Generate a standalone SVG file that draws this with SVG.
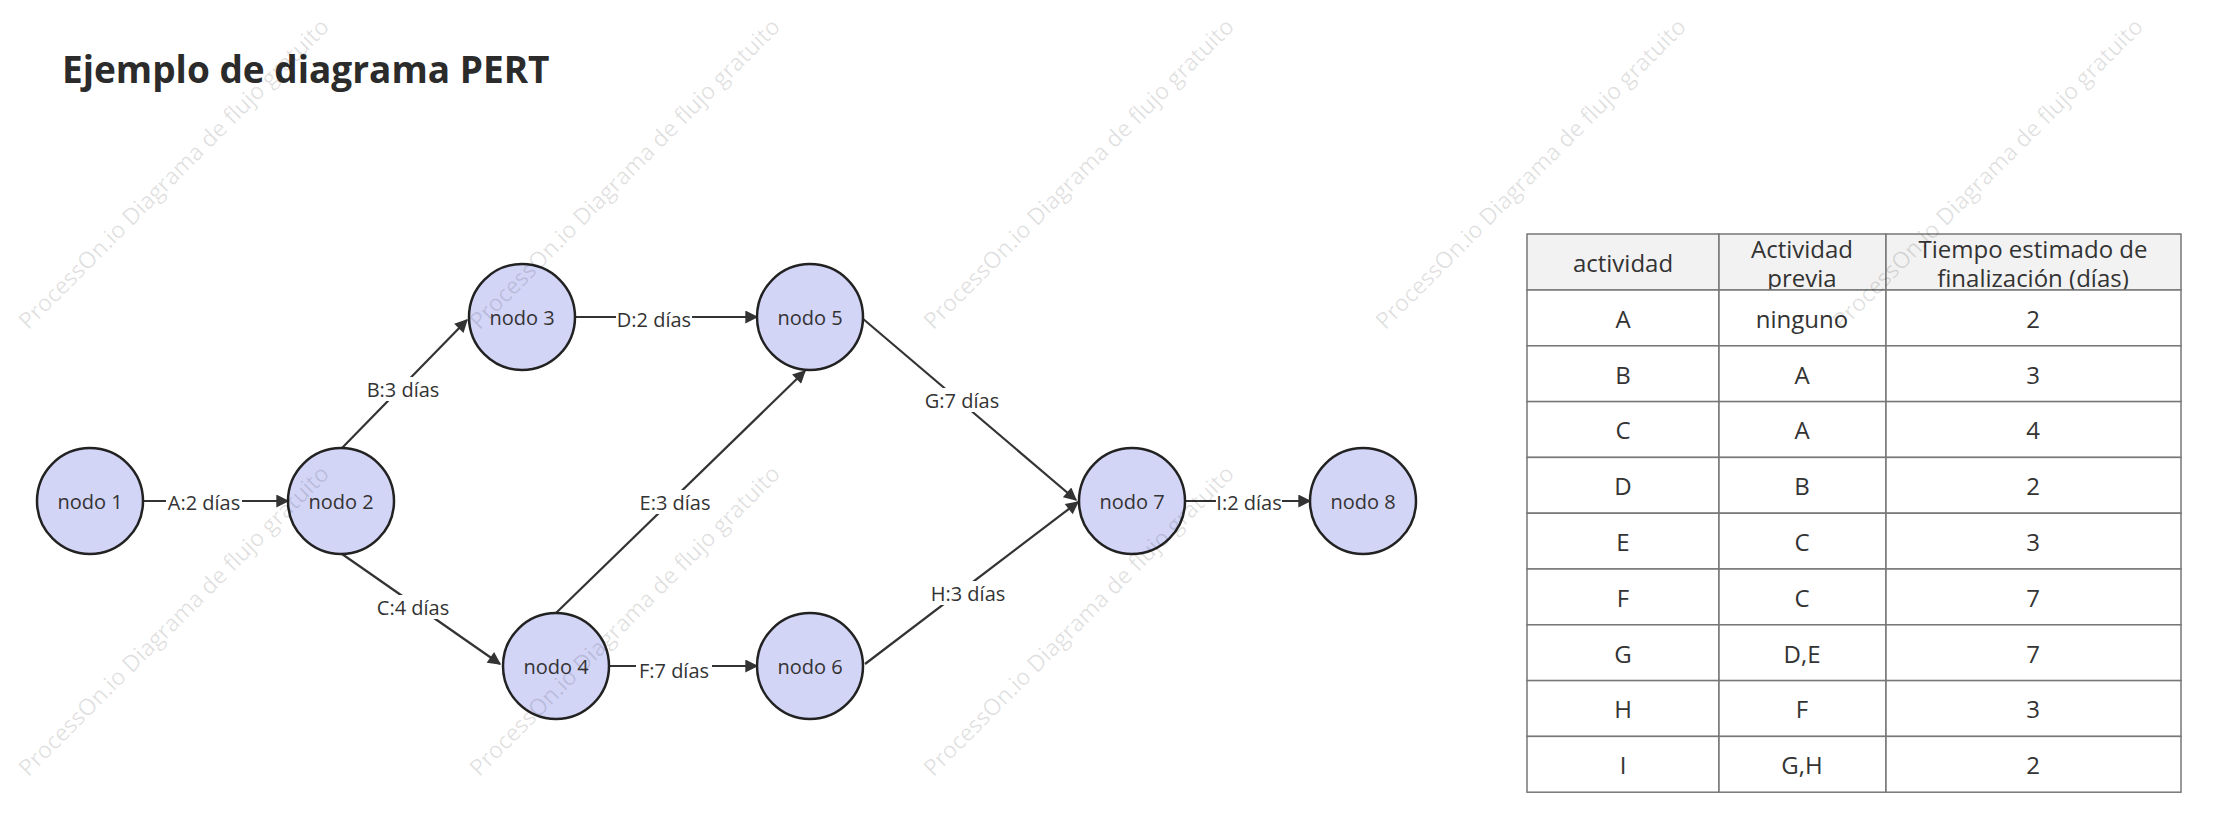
<svg xmlns="http://www.w3.org/2000/svg" width="2214" height="828" viewBox="0 0 2214 828">
<style>
text{font-family:"Open Sans","Noto Sans","DejaVu Sans",sans-serif;fill:#333}
.node circle{fill:#d3d5f7;stroke:#222;stroke-width:2.5}
.node text{font-size:20px;text-anchor:middle;dominant-baseline:central}
.edge line{stroke:#333;stroke-width:2.2;marker-end:url(#arr)}
.lbl{font-size:20px;text-anchor:middle;dominant-baseline:central}
.lblbg{fill:#fff}
.cell{fill:#fff;stroke:#777;stroke-width:1.5}
.hcell{fill:#f2f2f2;stroke:#777;stroke-width:1.5}
.t{font-size:24px;text-anchor:middle;dominant-baseline:central}
.wm{font-size:23px;fill:#000;fill-opacity:0.12;text-anchor:middle;dominant-baseline:central}
</style>
<defs>
<marker id="arr" viewBox="0 0 10 10" refX="9" refY="5" markerWidth="15" markerHeight="13" markerUnits="userSpaceOnUse" orient="auto"><path d="M0,0L10,5L0,10z" fill="#333"/></marker>
</defs>
<rect width="2214" height="828" fill="#fff"/>
<text x="62" y="83" font-size="37" font-weight="bold" style="fill:#2b2b2b">Ejemplo de diagrama PERT</text>
<g id="connectors">
<g class="edge">
<line x1="143" y1="501" x2="288" y2="501"/>
<line x1="342" y1="448" x2="467" y2="320"/>
<line x1="342" y1="554" x2="500" y2="664"/>
<line x1="575" y1="317" x2="757" y2="317"/>
<line x1="556" y1="613" x2="805" y2="371"/>
<line x1="609" y1="666" x2="757" y2="666"/>
<line x1="862" y1="318" x2="1076" y2="500"/>
<line x1="865" y1="664" x2="1078" y2="502"/>
<line x1="1185" y1="501" x2="1310" y2="501"/>
</g>
<g>
<rect class="lblbg" x="166" y="490" width="76" height="24"/><text class="lbl" x="204" y="502">A:2 días</text>
<rect class="lblbg" x="365" y="377" width="76" height="24"/><text class="lbl" x="403" y="389">B:3 días</text>
<rect class="lblbg" x="375" y="595" width="76" height="24"/><text class="lbl" x="413" y="607">C:4 días</text>
<rect class="lblbg" x="616" y="307" width="76" height="24"/><text class="lbl" x="654" y="319">D:2 días</text>
<rect class="lblbg" x="637" y="490" width="76" height="24"/><text class="lbl" x="675" y="502">E:3 días</text>
<rect class="lblbg" x="636" y="658" width="76" height="24"/><text class="lbl" x="674" y="670">F:7 días</text>
<rect class="lblbg" x="923" y="388" width="78" height="24"/><text class="lbl" x="962" y="400">G:7 días</text>
<rect class="lblbg" x="929" y="581" width="78" height="24"/><text class="lbl" x="968" y="593">H:3 días</text>
<rect class="lblbg" x="1216" y="490" width="66" height="24"/><text class="lbl" x="1249" y="502">I:2 días</text>
</g>
</g>
<g id="node1" class="node"><circle cx="90" cy="501" r="53"/><text x="90" y="501">nodo 1</text></g>
<g id="node2" class="node"><circle cx="341" cy="501" r="53"/><text x="341" y="501">nodo 2</text></g>
<g id="node3" class="node"><circle cx="522" cy="317" r="53"/><text x="522" y="317">nodo 3</text></g>
<g id="node4" class="node"><circle cx="556" cy="666" r="53"/><text x="556" y="666">nodo 4</text></g>
<g id="node5" class="node"><circle cx="810" cy="317" r="53"/><text x="810" y="317">nodo 5</text></g>
<g id="node6" class="node"><circle cx="810" cy="666" r="53"/><text x="810" y="666">nodo 6</text></g>
<g id="node7" class="node"><circle cx="1132" cy="501" r="53"/><text x="1132" y="501">nodo 7</text></g>
<g id="node8" class="node"><circle cx="1363" cy="501" r="53"/><text x="1363" y="501">nodo 8</text></g>
<g id="table" transform="translate(-6,-2)">
<rect class="hcell" x="1533" y="236" width="192" height="56"/>
<rect class="hcell" x="1725" y="236" width="167" height="56"/>
<rect class="hcell" x="1892" y="236" width="295" height="56"/>
<text class="t" x="1629" y="264">actividad</text>
<text class="t" x="1808" y="250">Actividad</text><text class="t" x="1808" y="279">previa</text>
<text class="t" x="2039" y="250">Tiempo estimado de</text><text class="t" x="2039" y="279">finalización (días)</text>
<g>
<rect class="cell" x="1533" y="292" width="192" height="55.8"/><rect class="cell" x="1725" y="292" width="167" height="55.8"/><rect class="cell" x="1892" y="292" width="295" height="55.8"/>
<rect class="cell" x="1533" y="347.8" width="192" height="55.8"/><rect class="cell" x="1725" y="347.8" width="167" height="55.8"/><rect class="cell" x="1892" y="347.8" width="295" height="55.8"/>
<rect class="cell" x="1533" y="403.6" width="192" height="55.8"/><rect class="cell" x="1725" y="403.6" width="167" height="55.8"/><rect class="cell" x="1892" y="403.6" width="295" height="55.8"/>
<rect class="cell" x="1533" y="459.4" width="192" height="55.8"/><rect class="cell" x="1725" y="459.4" width="167" height="55.8"/><rect class="cell" x="1892" y="459.4" width="295" height="55.8"/>
<rect class="cell" x="1533" y="515.2" width="192" height="55.8"/><rect class="cell" x="1725" y="515.2" width="167" height="55.8"/><rect class="cell" x="1892" y="515.2" width="295" height="55.8"/>
<rect class="cell" x="1533" y="571" width="192" height="55.8"/><rect class="cell" x="1725" y="571" width="167" height="55.8"/><rect class="cell" x="1892" y="571" width="295" height="55.8"/>
<rect class="cell" x="1533" y="626.8" width="192" height="55.8"/><rect class="cell" x="1725" y="626.8" width="167" height="55.8"/><rect class="cell" x="1892" y="626.8" width="295" height="55.8"/>
<rect class="cell" x="1533" y="682.6" width="192" height="55.8"/><rect class="cell" x="1725" y="682.6" width="167" height="55.8"/><rect class="cell" x="1892" y="682.6" width="295" height="55.8"/>
<rect class="cell" x="1533" y="738.4" width="192" height="55.8"/><rect class="cell" x="1725" y="738.4" width="167" height="55.8"/><rect class="cell" x="1892" y="738.4" width="295" height="55.8"/>
</g>
<text class="t" x="1629" y="320">A</text><text class="t" x="1808" y="320">ninguno</text><text class="t" x="2039" y="320">2</text>
<text class="t" x="1629" y="376">B</text><text class="t" x="1808" y="376">A</text><text class="t" x="2039" y="376">3</text>
<text class="t" x="1629" y="431">C</text><text class="t" x="1808" y="431">A</text><text class="t" x="2039" y="431">4</text>
<text class="t" x="1629" y="487">D</text><text class="t" x="1808" y="487">B</text><text class="t" x="2039" y="487">2</text>
<text class="t" x="1629" y="543">E</text><text class="t" x="1808" y="543">C</text><text class="t" x="2039" y="543">3</text>
<text class="t" x="1629" y="599">F</text><text class="t" x="1808" y="599">C</text><text class="t" x="2039" y="599">7</text>
<text class="t" x="1629" y="655">G</text><text class="t" x="1808" y="655">D,E</text><text class="t" x="2039" y="655">7</text>
<text class="t" x="1629" y="710">H</text><text class="t" x="1808" y="710">F</text><text class="t" x="2039" y="710">3</text>
<text class="t" x="1629" y="766">I</text><text class="t" x="1808" y="766">G,H</text><text class="t" x="2039" y="766">2</text>
</g>
<g id="watermarks">
<text class="wm" transform="translate(173,173) rotate(-45)">ProcessOn.io Diagrama de flujo gratuito</text>
<text class="wm" transform="translate(624,173) rotate(-45)">ProcessOn.io Diagrama de flujo gratuito</text>
<text class="wm" transform="translate(1078,173) rotate(-45)">ProcessOn.io Diagrama de flujo gratuito</text>
<text class="wm" transform="translate(1530,173) rotate(-45)">ProcessOn.io Diagrama de flujo gratuito</text>
<text class="wm" transform="translate(1987,173) rotate(-45)">ProcessOn.io Diagrama de flujo gratuito</text>
<text class="wm" transform="translate(173,620) rotate(-45)">ProcessOn.io Diagrama de flujo gratuito</text>
<text class="wm" transform="translate(624,620) rotate(-45)">ProcessOn.io Diagrama de flujo gratuito</text>
<text class="wm" transform="translate(1078,620) rotate(-45)">ProcessOn.io Diagrama de flujo gratuito</text>
</g>
</svg>
